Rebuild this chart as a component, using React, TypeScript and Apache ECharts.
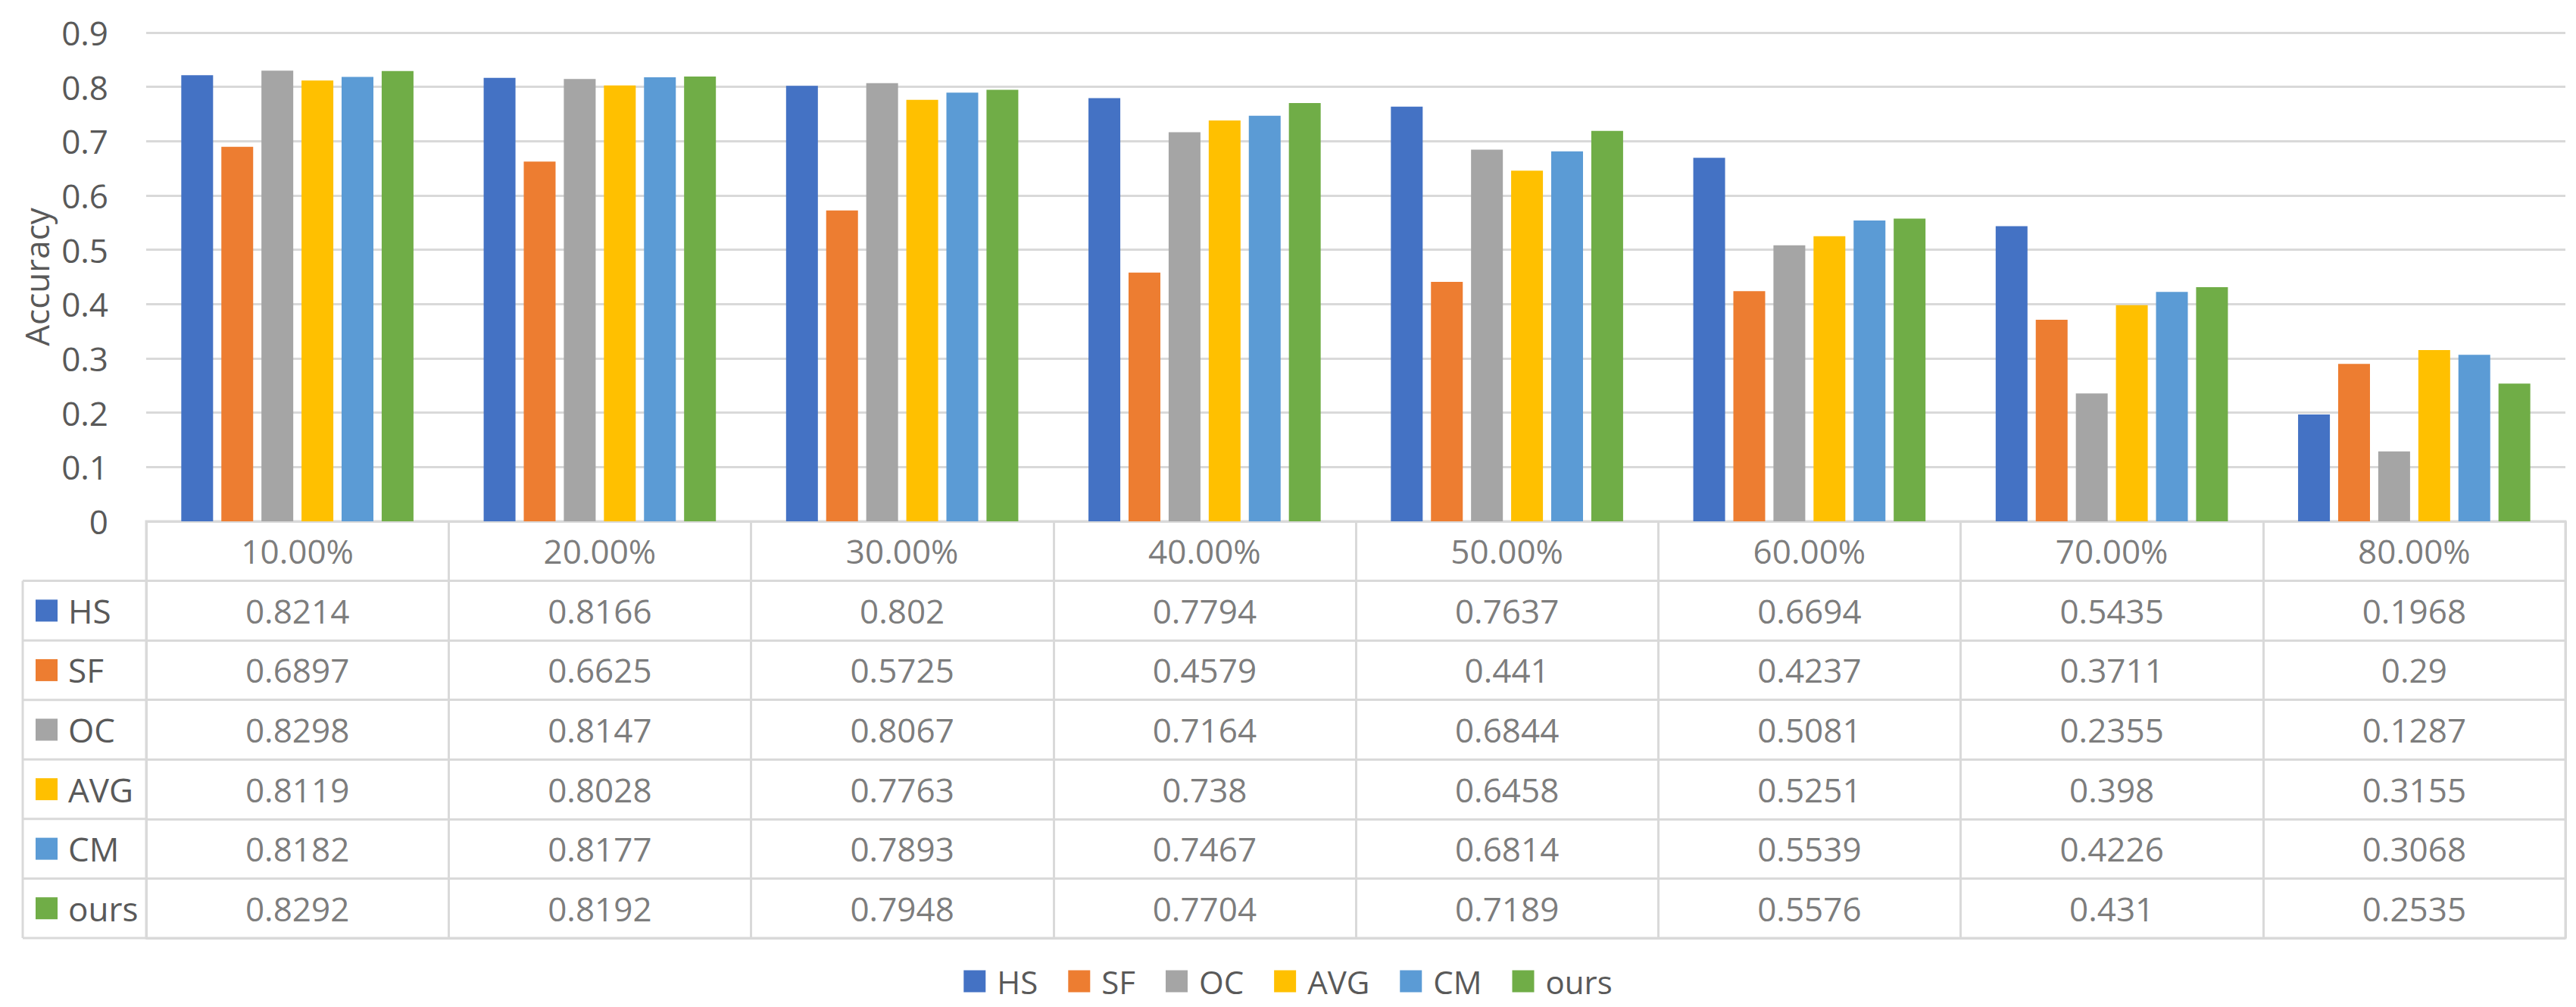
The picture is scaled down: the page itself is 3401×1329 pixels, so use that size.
import React, { useEffect, useRef } from "react";
import * as echarts from "echarts";

const categories = ["10.00%", "20.00%", "30.00%", "40.00%", "50.00%", "60.00%", "70.00%", "80.00%"];
const seriesNames = ["HS", "SF", "OC", "AVG", "CM", "ours"];
const hs = [0.8214, 0.8166, 0.802, 0.7794, 0.7637, 0.6694, 0.5435, 0.1968];
const sf = [0.6897, 0.6625, 0.5725, 0.4579, 0.441, 0.4237, 0.3711, 0.29];
const oc = [0.8298, 0.8147, 0.8067, 0.7164, 0.6844, 0.5081, 0.2355, 0.1287];
const avg = [0.8119, 0.8028, 0.7763, 0.738, 0.6458, 0.5251, 0.398, 0.3155];
const cm = [0.8182, 0.8177, 0.7893, 0.7467, 0.6814, 0.5539, 0.4226, 0.3068];
const ours = [0.8292, 0.8192, 0.7948, 0.7704, 0.7189, 0.5576, 0.431, 0.2535];
const yTicks = { min: 0, max: 0.9, interval: 0.1 };

const colors = ["#4472C4", "#ED7D31", "#A5A5A5", "#FFC000", "#5B9BD5", "#70AD47"];

const W = 3401;
const H = 1329;
const FONT = "Open Sans";
const TXT = "#595959";
const LINE = "#D9D9D9";

export default function App() {
  const ref = useRef<HTMLDivElement>(null);
  useEffect(() => {
    if (!ref.current) return;
    const chart = echarts.init(ref.current, undefined, { renderer: "svg" });
    const values = [hs, sf, oc, avg, cm, ours];

    const plotLeft = 193;
    const plotRight = 14;
    const plotTop = 43;
    const tableTop = 688;
    const tableBottom = 1238;
    const rows = seriesNames.length + 1;
    const rowH = (tableBottom - tableTop) / rows;
    const tableLeft = 30;

    const tableData: any[] = [];
    categories.forEach((c, i) => {
      tableData.push({ value: [i, 0], label: { formatter: c } });
      values.forEach((arr, s) => {
        tableData.push({ value: [i, s + 1], label: { formatter: String(arr[i]) } });
      });
    });

    const rich: any = {
      t: { fontSize: 44, fontFamily: FONT, color: TXT, padding: [0, 0, 0, 14] },
    };
    colors.forEach((c, i) => {
      rich["m" + i] = { backgroundColor: c, width: 29, height: 29 };
    });

    const graphics: any[] = [];
    graphics.push({
      type: "line",
      shape: { x1: tableLeft, y1: tableTop + rowH, x2: tableLeft, y2: tableBottom },
      style: { stroke: LINE, lineWidth: 3 },
      silent: true,
    });
    for (let k = 1; k <= rows; k++) {
      const y = tableTop + rowH * k;
      graphics.push({
        type: "line",
        shape: { x1: tableLeft, y1: y, x2: plotLeft, y2: y },
        style: { stroke: LINE, lineWidth: 3 },
        silent: true,
      });
    }

    const option: any = {
      animation: false,
      backgroundColor: "#ffffff",
      color: colors,
      textStyle: { fontFamily: FONT },
      grid: [
        { left: plotLeft, right: plotRight, top: plotTop, bottom: H - tableTop },
        {
          left: plotLeft,
          right: plotRight,
          top: tableTop,
          bottom: H - tableBottom,
          show: true,
          borderColor: LINE,
          borderWidth: 3,
        },
      ],
      legend: {
        data: seriesNames,
        left: "center",
        top: 1268,
        itemWidth: 29,
        itemHeight: 29,
        itemGap: 40,
        icon: "rect",
        textStyle: { fontSize: 42, fontFamily: FONT, color: TXT, lineHeight: 44, padding: [0, 0, 0, 10] },
      },
      xAxis: [
        {
          type: "category",
          gridIndex: 0,
          data: categories,
          axisLabel: { show: false },
          axisTick: { show: false },
          axisLine: { show: false },
        },
        {
          type: "category",
          gridIndex: 1,
          data: categories,
          axisLabel: { show: false },
          axisTick: { show: false },
          axisLine: { show: false },
          splitLine: { show: true, lineStyle: { color: LINE, width: 3 } },
        },
      ],
      yAxis: [
        {
          type: "value",
          gridIndex: 0,
          min: yTicks.min,
          max: yTicks.max,
          interval: yTicks.interval,
          name: "Accuracy",
          nameLocation: "middle",
          nameRotate: 90,
          nameGap: 122,
          nameTextStyle: { fontSize: 44, fontFamily: FONT, color: TXT },
          axisLabel: { fontSize: 44, fontFamily: FONT, color: TXT, margin: 50 },
          axisLine: { show: false },
          axisTick: { show: false },
          splitLine: { show: true, lineStyle: { color: LINE, width: 3 } },
        },
        {
          type: "category",
          gridIndex: 1,
          inverse: true,
          data: [""].concat(seriesNames),
          axisLine: { show: false },
          axisTick: { show: false },
          splitLine: { show: true, lineStyle: { color: LINE, width: 3 } },
          axisLabel: {
            align: "left",
            margin: plotLeft - 47,
            formatter: (v: string, i: number) => (i === 0 ? "" : `{m${i - 1}|}{t|${v}}`),
            rich,
          },
        },
      ],
      series: [
        ...seriesNames.map((n, s) => ({
          name: n,
          type: "bar",
          xAxisIndex: 0,
          yAxisIndex: 0,
          data: values[s],
          barWidth: 42,
          barGap: "26%",
        })),
        {
          name: "table",
          type: "scatter",
          xAxisIndex: 1,
          yAxisIndex: 1,
          symbolSize: 0,
          silent: true,
          label: {
            show: true,
            position: "inside",
            fontSize: 44,
            fontFamily: FONT,
            color: TXT,
          },
          data: tableData,
        },
      ],
      graphic: graphics,
    };
    chart.setOption(option);
    return () => chart.dispose();
  }, []);
  return (
    <div
      ref={ref}
      style={{ position: "absolute", left: 0, top: 0, width: W + "px", height: H + "px", background: "#fff" }}
    />
  );
}
